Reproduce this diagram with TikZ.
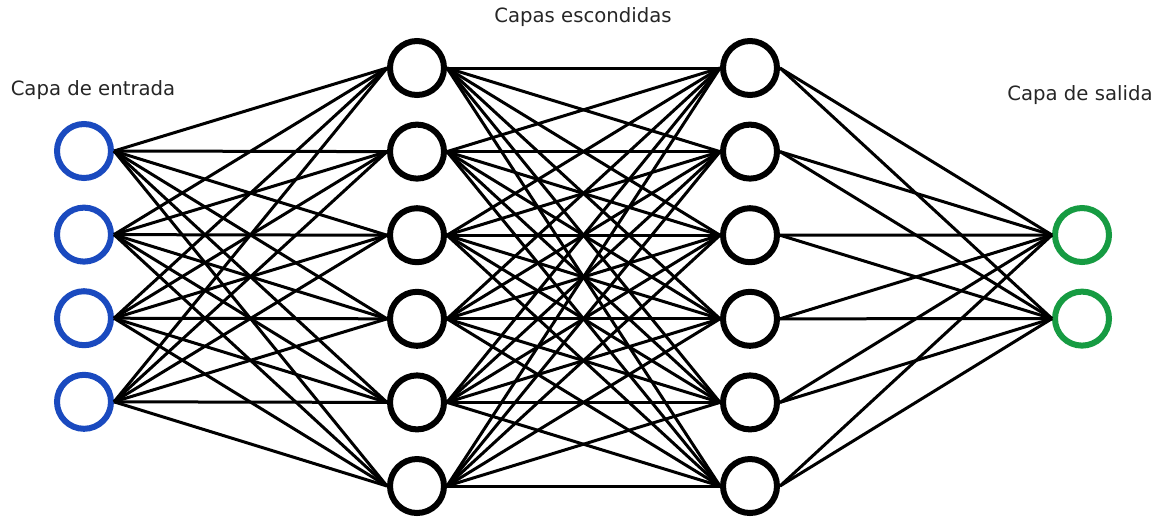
\documentclass[tikz,border=0pt]{standalone}
\usepackage{fontspec}
\setmainfont{DejaVu Sans}
\usepackage{tikz}
\usetikzlibrary{arrows.meta}
\definecolor{inblue}{RGB}{26,74,191}
\definecolor{outgreen}{RGB}{22,155,66}
\tikzset{
  neuron/.style={circle,draw=black,fill=white,line width=0.12cm,minimum size=1.08cm,inner sep=0pt},
  synapse/.style={line width=0.06cm,black},
  layerlabel/.style={font=\fontsize{11.2}{13}\selectfont,text=black!85}
}
\begin{document}
\begin{tikzpicture}
\useasboundingbox (0,0) rectangle (23.3,-10.32);
% neurons
\foreach \i in {1,...,4}
  \node[neuron,draw=inblue] (in\i) at (1.68,{-3.02-1.672*(\i-1)}) {};
\foreach \i in {1,...,6}{
  \node[neuron] (ha\i) at (8.34,{-1.36-1.672*(\i-1)}) {};
  \node[neuron] (hb\i) at (15.0,{-1.36-1.672*(\i-1)}) {};
}
\foreach \i in {1,2}
  \node[neuron,draw=outgreen] (out\i) at (21.64,{-4.70-1.672*(\i-1)}) {};
% connections
\foreach \i in {1,...,4}
  \foreach \j in {1,...,6}
    \draw[synapse](in\i.east)--(ha\j.west);
\foreach \i in {1,...,6}
  \foreach \j in {1,...,6}
    \draw[synapse](ha\i.east)--(hb\j.west);
\foreach \i in {1,...,6}
  \foreach \j in {1,2}
    \draw[synapse](hb\i.east)--(out\j.west);
% labels
\node[layerlabel] (lin) at (1.86,-1.80) {Capa de entrada};
\node[layerlabel] (lhid) at (11.66,-0.34) {Capas escondidas};
\node[layerlabel] (lout) at (21.6,-1.90) {Capa de salida};
\end{tikzpicture}
\end{document}
